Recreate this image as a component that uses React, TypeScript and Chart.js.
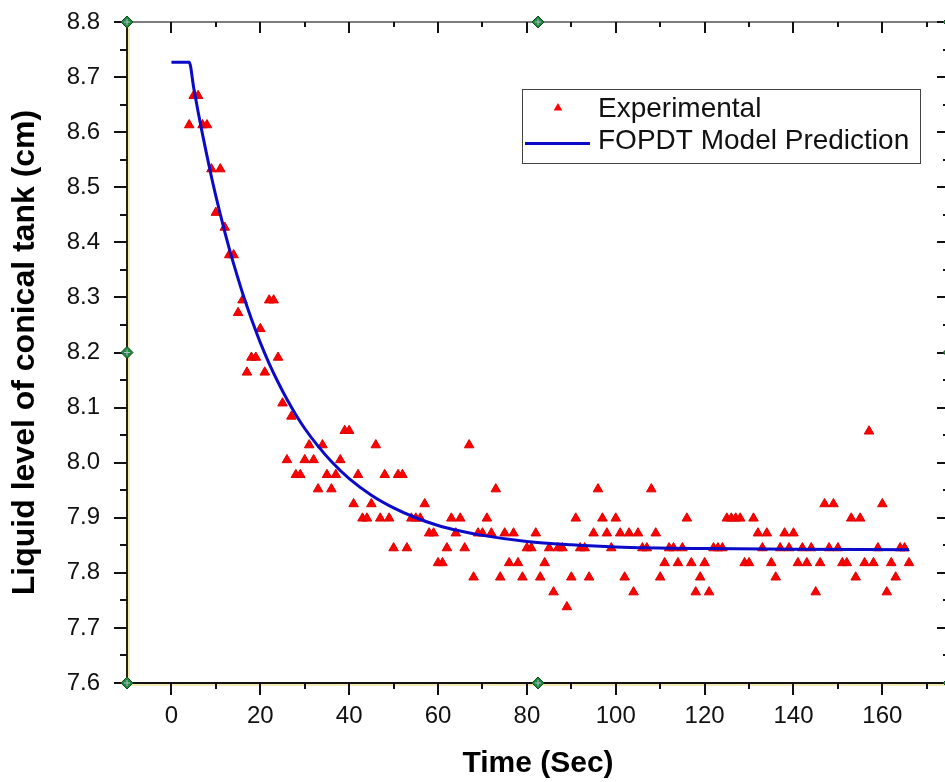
import { useEffect, useRef } from "react";
import { Chart, registerables } from "chart.js";

Chart.register(...registerables);

// ---- data ----
const expTime = [
  4, 5, 6, 7, 8, 9, 10, 11, 12, 13, 14, 15, 16, 17, 18, 19, 20, 21, 22, 23, 24, 25, 26, 27, 28, 29,
  30, 31, 32, 33, 34, 35, 36, 37, 38, 39, 40, 41, 42, 43, 44, 45, 46, 47, 48, 49, 50, 51, 52, 53, 54,
  55, 56, 57, 58, 59, 60, 61, 62, 63, 64, 65, 66, 67, 68, 69, 70, 71, 72, 73, 74, 75, 76, 77, 78, 79,
  80, 81, 82, 83, 84, 85, 86, 87, 88, 89, 90, 91, 92, 93, 94, 95, 96, 97, 98, 99, 100, 101, 102, 103,
  104, 105, 106, 107, 108, 109, 110, 111, 112, 113, 114, 115, 116, 117, 118, 119, 120, 121, 122, 123,
  124, 125, 126, 127, 128, 129, 130, 131, 132, 133, 134, 135, 136, 137, 138, 139, 140, 141, 142, 143,
  144, 145, 146, 147, 148, 149, 150, 151, 152, 153, 154, 155, 156, 157, 158, 159, 160, 161, 162, 163,
  164, 165, 166,
];
const expLevel = [
  8.613, 8.666, 8.666, 8.613, 8.613, 8.533, 8.454, 8.533, 8.427, 8.377, 8.377, 8.272, 8.295, 8.164,
  8.191, 8.191, 8.243, 8.164, 8.295, 8.295, 8.191, 8.108, 8.005, 8.084, 7.978, 7.978,
  8.005, 8.032, 8.005, 7.952, 8.032, 7.978, 7.952, 7.978, 8.005, 8.058, 8.058, 7.925, 7.978, 7.899,
  7.899, 7.925, 8.032, 7.899, 7.978, 7.899, 7.845, 7.978, 7.978, 7.845, 7.899,
  7.899, 7.899, 7.925, 7.872, 7.872, 7.818, 7.818, 7.845, 7.899, 7.872, 7.899, 7.845, 8.032, 7.792,
  7.872, 7.872, 7.899, 7.872, 7.952, 7.792, 7.872, 7.818, 7.872, 7.818, 7.792,
  7.845, 7.845, 7.872, 7.792, 7.818, 7.845, 7.765, 7.845, 7.845, 7.738, 7.792, 7.899, 7.845, 7.845,
  7.792, 7.872, 7.952, 7.899, 7.872, 7.845, 7.899, 7.872, 7.792, 7.872,
  7.765, 7.872, 7.845, 7.845, 7.952, 7.872, 7.792, 7.818, 7.845, 7.845, 7.818, 7.845, 7.899, 7.818,
  7.765, 7.792, 7.818, 7.765, 7.845, 7.845,
  7.845, 7.899, 7.899, 7.899, 7.899, 7.818, 7.818, 7.899, 7.872, 7.845, 7.872, 7.818, 7.792, 7.845,
  7.872, 7.845, 7.872, 7.818, 7.845, 7.818,
  7.845, 7.765, 7.818, 7.925, 7.845, 7.925, 7.845, 7.818, 7.818, 7.899, 7.792, 7.899, 7.818, 8.057,
  7.818, 7.845, 7.925, 7.765, 7.818, 7.792,
  7.845, 7.845, 7.818,
];
const modelTime = [
  0, 4, 5, 6, 7, 8, 9, 10, 11, 12, 13, 14, 15, 16, 17, 18, 19, 20, 22, 24, 26, 28, 30, 33, 36, 40,
  45, 50, 55, 60, 65, 70, 80, 90, 100, 120, 140, 166,
];
const modelLevel = [
  8.727, 8.727, 8.681, 8.637, 8.596, 8.557, 8.519, 8.484, 8.451, 8.419, 8.389, 8.361, 8.334, 8.308,
  8.284, 8.261, 8.239, 8.218, 8.18, 8.146, 8.115, 8.087, 8.062, 8.03, 8.002, 7.971,
  7.941, 7.918, 7.9, 7.886, 7.876, 7.868, 7.857, 7.851, 7.847, 7.844, 7.843, 7.842,
];
const seriesLabels = ["Experimental", "FOPDT Model Prediction"];
const xMajorTicks = [0, 20, 40, 60, 80, 100, 120, 140, 160];
const xMinorTicks = [10, 30, 50, 70, 90, 110, 130, 150, 170];
const yMajorTicks = [7.6, 7.7, 7.8, 7.9, 8.0, 8.1, 8.2, 8.3, 8.4, 8.5, 8.6, 8.7, 8.8];
const yMinorTicks = [7.65, 7.75, 7.85, 7.95, 8.05, 8.15, 8.25, 8.35, 8.45, 8.55, 8.65, 8.75];
const xRange = [-10, 175];
const yRange = [7.6, 8.8];
const xTitle = "Time (Sec)";
const yTitle = "Liquid level of conical tank (cm)";

const FAMILY = '"Liberation Sans", Arial, sans-serif';
const RED = "#ff0000";
const BLUE = "#0a0ac8";

const framePlugin = {
  id: "originFrame",
  afterDatasetsDraw(chart: any) {
    const { ctx, chartArea: a, scales } = chart;
    const x = scales.x;
    const y = scales.y;
    const line = (x1: number, y1: number, x2: number, y2: number) => {
      ctx.beginPath();
      ctx.moveTo(x1, y1);
      ctx.lineTo(x2, y2);
      ctx.stroke();
    };
    ctx.save();
    // faint selection highlight
    ctx.lineWidth = 1.5;
    ctx.strokeStyle = "#efe39a";
    line(a.left + 2, a.top, a.left + 2, a.bottom);
    line(a.left, a.bottom + 2, a.right, a.bottom + 2);
    // axis lines
    ctx.lineWidth = 2;
    ctx.strokeStyle = "#7d7d7d";
    line(a.left, a.top, a.right, a.top);
    ctx.strokeStyle = "#222";
    line(a.right, a.top, a.right, a.bottom);
    ctx.strokeStyle = "#111";
    line(a.left, a.bottom, a.right, a.bottom);
    ctx.strokeStyle = "#2a1e0c";
    line(a.left, a.top, a.left, a.bottom);
    // ticks
    ctx.strokeStyle = "#111";
    ctx.lineWidth = 2;
    xMajorTicks.forEach((v) => {
      const p = Math.round(x.getPixelForValue(v));
      line(p, a.bottom, p, a.bottom + 12);
      line(p, a.top, p, a.top + 11);
    });
    xMinorTicks.forEach((v) => {
      const p = Math.round(x.getPixelForValue(v));
      line(p, a.bottom, p, a.bottom + 6);
      line(p, a.top, p, a.top + 5);
    });
    yMajorTicks.forEach((v) => {
      const p = Math.round(y.getPixelForValue(v));
      line(a.left - 13, p, a.left, p);
      line(a.right - 12, p, a.right, p);
    });
    yMinorTicks.forEach((v) => {
      const p = Math.round(y.getPixelForValue(v));
      line(a.left - 7, p, a.left, p);
      line(a.right - 6, p, a.right, p);
    });
    // green handles
    const mx = (a.left + a.right) / 2;
    const my = (a.top + a.bottom) / 2;
    const handles = [
      [a.left, a.top], [mx, a.top], [a.right, a.top],
      [a.left, my], [a.right, my],
      [a.left, a.bottom], [mx, a.bottom], [a.right, a.bottom],
    ];
    handles.forEach(([hx, hy]) => {
      const s = 6;
      ctx.beginPath();
      ctx.moveTo(hx, hy - s);
      ctx.lineTo(hx + s, hy);
      ctx.lineTo(hx, hy + s);
      ctx.lineTo(hx - s, hy);
      ctx.closePath();
      ctx.fillStyle = "#1f8a3c";
      ctx.fill();
      ctx.lineWidth = 1;
      ctx.strokeStyle = "#0d4d1f";
      ctx.stroke();
      ctx.strokeStyle = "#b9b9d8";
      line(hx - 3, hy, hx + 3, hy);
      line(hx, hy - 3, hx, hy + 3);
    });
    ctx.restore();
  },
  afterDraw(chart: any) {
    const { ctx } = chart;
    const ds = chart.data.datasets;
    ctx.save();
    const bx = 522.5, by = 89.5, bw = 398, bh = 74;
    ctx.fillStyle = "#fff";
    ctx.fillRect(bx, by, bw, bh);
    ctx.lineWidth = 1;
    ctx.strokeStyle = "#444";
    ctx.strokeRect(bx, by, bw, bh);
    // marker row
    const tx = 558, ty = 108, r = 5;
    ctx.beginPath();
    ctx.moveTo(tx, ty - r);
    ctx.lineTo(tx + r * Math.sin((2 * Math.PI) / 3), ty + r / 2);
    ctx.lineTo(tx - r * Math.sin((2 * Math.PI) / 3), ty + r / 2);
    ctx.closePath();
    ctx.fillStyle = RED;
    ctx.fill();
    // line row
    ctx.strokeStyle = BLUE;
    ctx.lineWidth = 3;
    ctx.beginPath();
    ctx.moveTo(525, 143.5);
    ctx.lineTo(590, 143.5);
    ctx.stroke();
    ctx.fillStyle = "#111";
    ctx.font = `28px ${FAMILY}`;
    ctx.textAlign = "left";
    ctx.textBaseline = "alphabetic";
    ctx.fillText(ds[0].label, 598, 116.5);
    ctx.fillText(ds[1].label, 598, 148.5);
    ctx.restore();
  },
};

export default function App() {
  const ref = useRef<HTMLCanvasElement>(null);
  useEffect(() => {
    const canvas = ref.current;
    if (!canvas) return;
    const chart = new Chart(canvas, {
      type: "scatter",
      data: {
        datasets: [
          {
            label: seriesLabels[0],
            data: expTime.map((t, i) => ({ x: t, y: expLevel[i] })),
            pointStyle: "triangle",
            pointRadius: 5.5,
            backgroundColor: RED,
            borderColor: "#dd0000",
            borderWidth: 1,
            showLine: false,
            order: 1,
          },
          {
            label: seriesLabels[1],
            data: modelTime.map((t, i) => ({ x: t, y: modelLevel[i] })),
            showLine: true,
            pointRadius: 0,
            borderColor: BLUE,
            backgroundColor: BLUE,
            borderWidth: 3,
            cubicInterpolationMode: "monotone",
            order: 0,
          } as any,
        ],
      },
      options: {
        animation: false,
        responsive: false,
        devicePixelRatio: 1,
        layout: { padding: { left: 0, top: 22, right: 11, bottom: 0 } },
        plugins: { legend: { display: false }, tooltip: { enabled: false } },
        scales: {
          x: {
            type: "linear",
            min: xRange[0],
            max: xRange[1],
            grid: { display: false, drawTicks: false },
            border: { display: false },
            afterBuildTicks: (s: any) => {
              s.ticks = xMajorTicks.map((v) => ({ value: v }));
            },
            afterFit: (s: any) => {
              s.height = 99;
              s.paddingLeft = 0;
              s.paddingRight = 0;
            },
            ticks: {
              padding: 19,
              maxRotation: 0,
              color: "#111",
              font: { family: FAMILY, size: 24 },
              callback: (v: any) => String(v),
            },
            title: {
              display: true,
              text: xTitle,
              color: "#000",
              font: { family: FAMILY, size: 30, weight: "bold" },
              padding: { top: 0, bottom: 0 },
            },
          },
          y: {
            type: "linear",
            min: yRange[0],
            max: yRange[1],
            grid: { display: false, drawTicks: false },
            border: { display: false },
            afterBuildTicks: (s: any) => {
              s.ticks = yMajorTicks.map((v) => ({ value: v }));
            },
            afterFit: (s: any) => {
              s.width = 127;
              s.paddingTop = 0;
              s.paddingBottom = 0;
            },
            ticks: {
              padding: 27,
              color: "#111",
              font: { family: FAMILY, size: 24 },
              callback: (v: any) => Number(v).toFixed(1),
            },
            title: {
              display: true,
              text: yTitle,
              color: "#000",
              font: { family: FAMILY, size: 32, weight: "bold" },
              padding: { top: 6, bottom: 0 },
            },
          },
        },
      },
      plugins: [framePlugin],
    });
    return () => chart.destroy();
  }, []);
  return (
    <div
      style={{
        position: "fixed",
        left: 0,
        top: 0,
        width: 945,
        height: 782,
        overflow: "hidden",
        background: "#fff",
      }}
    >
      <canvas ref={ref} width={960} height={782} style={{ display: "block" }} />
    </div>
  );
}
